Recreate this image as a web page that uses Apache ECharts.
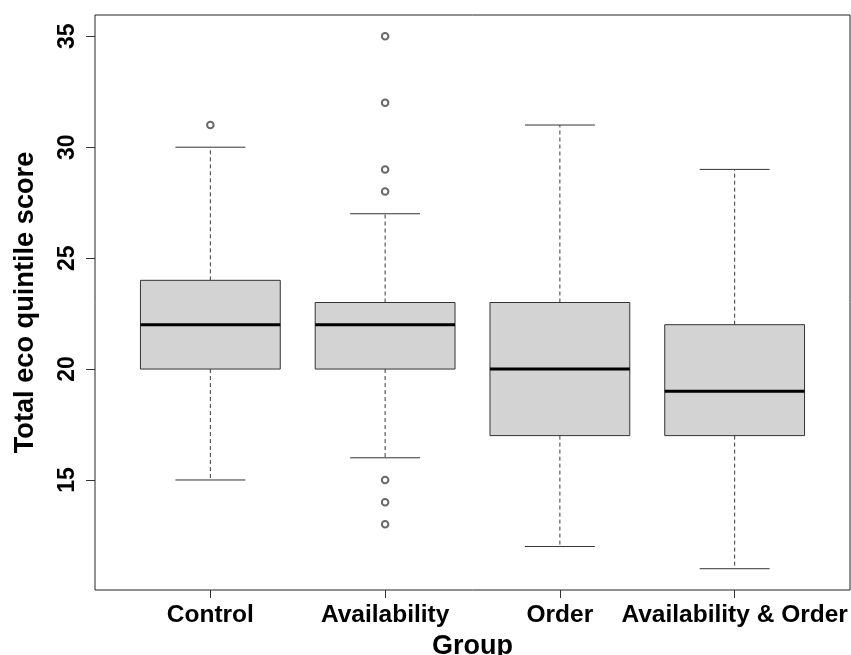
<!DOCTYPE html>
<html>
<head>
<meta charset="utf-8">
<script src="https://cdn.jsdelivr.net/npm/echarts@6/dist/echarts.min.js"></script>
<style>
html,body{margin:0;padding:0;background:#fff;overflow:hidden;}
#chart{width:851px;height:655px;}
</style>
</head>
<body>
<div id="chart"></div>
<script>
const categories = ['Control', 'Availability', 'Order', 'Availability & Order'];
const lowerWhisker = [15, 16, 12, 11];
const q1 = [20, 20, 17, 17];
const median = [22, 22, 20, 19];
const q3 = [24, 23, 23, 22];
const upperWhisker = [30, 27, 31, 29];
const outlierGroup = [0, 1, 1, 1, 1, 1, 1, 1];
const outlierValue = [31, 35, 32, 29, 28, 15, 14, 13];
const yTicks = [15, 20, 25, 30, 35];

const FONT = "'Liberation Sans', Arial, sans-serif";

const boxData = categories.map((c, i) => [i + 1, lowerWhisker[i], q1[i], median[i], q3[i], upperWhisker[i]]);
const outlierData = outlierGroup.map((g, i) => [g + 1, outlierValue[i]]);

const chart = echarts.init(document.getElementById('chart'), null, {renderer: 'canvas', width: 851, height: 655});

function renderBox(params, api) {
  const x = api.value(0);
  const lo = api.value(1), a = api.value(2), m = api.value(3), b = api.value(4), hi = api.value(5);
  const halfBox = 0.4, halfCap = 0.2;
  const pLo = api.coord([x, lo]), pA = api.coord([x, a]), pM = api.coord([x, m]), pB = api.coord([x, b]), pHi = api.coord([x, hi]);
  const xL = api.coord([x - halfBox, m])[0], xR = api.coord([x + halfBox, m])[0];
  const cL = api.coord([x - halfCap, m])[0], cR = api.coord([x + halfCap, m])[0];
  const lineStyle = {stroke: '#333', lineWidth: 1, fill: null};
  const dashStyle = {stroke: '#3a3a3a', lineWidth: 1, lineDash: [4, 3], fill: null};
  return {
    type: 'group',
    children: [
      {type: 'line', shape: {x1: pB[0], y1: pB[1], x2: pHi[0], y2: pHi[1]}, style: dashStyle},
      {type: 'line', shape: {x1: pA[0], y1: pA[1], x2: pLo[0], y2: pLo[1]}, style: dashStyle},
      {type: 'line', shape: {x1: cL, y1: pHi[1], x2: cR, y2: pHi[1]}, style: lineStyle},
      {type: 'line', shape: {x1: cL, y1: pLo[1], x2: cR, y2: pLo[1]}, style: lineStyle},
      {type: 'rect', shape: {x: xL, y: pB[1], width: xR - xL, height: pA[1] - pB[1]}, style: {fill: '#d3d3d3', stroke: '#333', lineWidth: 1}},
      {type: 'line', shape: {x1: xL, y1: pM[1], x2: xR, y2: pM[1]}, style: {stroke: '#000', lineWidth: 3}}
    ]
  };
}

chart.setOption({
  animation: false,
  backgroundColor: '#fff',
  grid: {
    left: 95, right: 1, top: 15, bottom: 65,
    containLabel: false,
    outerBoundsMode: 'none',
    show: true, borderColor: '#222', borderWidth: 1, backgroundColor: 'transparent'
  },
  xAxis: {
    type: 'value',
    min: 0.34,
    max: 4.66,
    splitLine: {show: false},
    axisLine: {show: false},
    axisTick: {show: true, length: 8, lineStyle: {color: '#333'}, customValues: [1, 2, 3, 4]},
    axisLabel: {
      customValues: [1, 2, 3, 4],
      formatter: v => categories[Math.round(v) - 1],
      fontFamily: FONT, fontWeight: 'bold', fontSize: 24.5, color: '#000', margin: 13
    },
    name: 'Group',
    nameLocation: 'middle',
    nameGap: 41,
    nameTextStyle: {fontFamily: FONT, fontWeight: 'bold', fontSize: 27, color: '#000'}
  },
  yAxis: {
    type: 'value',
    min: 10.04,
    max: 35.96,
    splitLine: {show: false},
    axisLine: {show: false},
    axisTick: {show: true, length: 9, lineStyle: {color: '#333'}, customValues: yTicks},
    axisLabel: {
      customValues: yTicks,
      rotate: 90,
      fontFamily: FONT, fontWeight: 'bold', fontSize: 23, color: '#000', margin: 16
    },
    name: 'Total eco quintile score',
    nameLocation: 'middle',
    nameRotate: 90,
    nameGap: 56,
    nameTextStyle: {fontFamily: FONT, fontWeight: 'bold', fontSize: 27.2, color: '#000'}
  },
  series: [
    {
      type: 'custom',
      renderItem: renderBox,
      data: boxData,
      encode: {x: 0, y: [1, 2, 3, 4, 5]},
      z: 2
    },
    {
      type: 'scatter',
      data: outlierData,
      symbol: 'emptyCircle',
      symbolSize: 6.5,
      itemStyle: {color: '#444', borderColor: '#444', borderWidth: 0.8},
      z: 3
    }
  ]
});
</script>
</body>
</html>
